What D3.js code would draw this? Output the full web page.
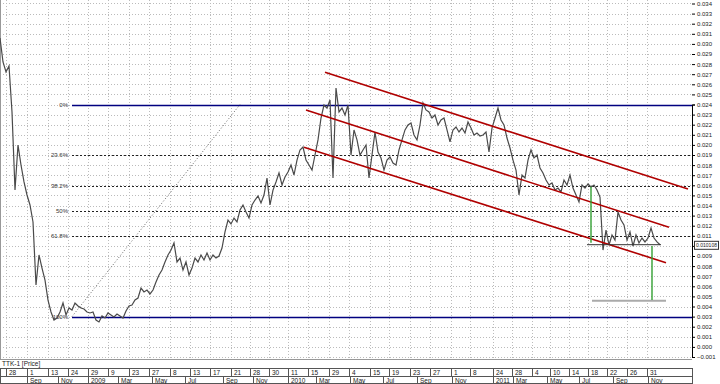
<!DOCTYPE html>
<html>
<head>
<meta charset="utf-8">
<script src="https://cdnjs.cloudflare.com/ajax/libs/d3/7.8.5/d3.min.js"></script>
<style>
  body { margin: 0; background: #fff; }
  svg { display: block; font-family: "Liberation Sans", Arial, sans-serif; }
</style>
</head>
<body>
<div id="chart"></div>
<script>
// TTK-1 close, one value every 3 bars
var barStep = 3;
var prices = [
  0.03058, 0.02821, 0.02722, 0.02781, 0.02326, 0.01553, 0.01999, 0.01801, 0.01633, 0.01504,
  0.01405, 0.01237, 0.00613, 0.00910, 0.00781, 0.00662, 0.00464, 0.00346, 0.00266, 0.00286,
  0.00346, 0.00435, 0.00316, 0.00385, 0.00365, 0.00435, 0.00405, 0.00385, 0.00375, 0.00346,
  0.00336, 0.00346, 0.00266, 0.00247, 0.00306, 0.00286, 0.00336, 0.00316, 0.00296, 0.00326,
  0.00306, 0.00286, 0.00355, 0.00405, 0.00415, 0.00464, 0.00484, 0.00583, 0.00544, 0.00563,
  0.00524, 0.00563, 0.00643, 0.00712, 0.00761, 0.00841, 0.00910, 0.00959, 0.01029, 0.00841,
  0.00880, 0.00761, 0.00841, 0.00712, 0.00781, 0.00880, 0.00841, 0.00910, 0.00860, 0.00930,
  0.00860, 0.00910, 0.00880, 0.00900, 0.00979, 0.01138, 0.01256, 0.01217, 0.01276, 0.01237,
  0.01355, 0.01405, 0.01336, 0.01276, 0.01405, 0.01454, 0.01494, 0.01425, 0.01504, 0.01672,
  0.01405, 0.01553, 0.01633, 0.01722, 0.01603, 0.01682, 0.01732, 0.01801, 0.01702, 0.01850,
  0.01950, 0.01979, 0.01850, 0.01801, 0.01751, 0.01900, 0.02049, 0.02266, 0.02395, 0.02365,
  0.02445, 0.01672, 0.02563, 0.02326, 0.02365, 0.02296, 0.02395, 0.01900, 0.02148, 0.02049,
  0.01900, 0.01950, 0.01999, 0.01672, 0.01900, 0.02128, 0.01930, 0.01870, 0.01751, 0.01850,
  0.01880, 0.01821, 0.01801, 0.01950, 0.02049, 0.02148, 0.02197, 0.02217, 0.02098, 0.02049,
  0.02197, 0.02415, 0.02346, 0.02326, 0.02266, 0.02296, 0.02197, 0.02247, 0.02266, 0.02148,
  0.02029, 0.02148, 0.02177, 0.02128, 0.02167, 0.02118, 0.02227, 0.02167, 0.02098, 0.02118,
  0.02088, 0.02098, 0.02128, 0.01930, 0.02167, 0.02266, 0.02365, 0.02247, 0.02197, 0.02068,
  0.01969, 0.01850, 0.01751, 0.01504, 0.01702, 0.01672, 0.01850, 0.01950, 0.01870, 0.01900,
  0.01771, 0.01722, 0.01652, 0.01603, 0.01623, 0.01553, 0.01573, 0.01534, 0.01652, 0.01603,
  0.01702, 0.01573, 0.01504, 0.01435, 0.01603, 0.01573, 0.01613, 0.01583, 0.01603, 0.01553,
  0.01484, 0.00959, 0.01157, 0.01009, 0.01108, 0.01058, 0.01336, 0.01256, 0.01207, 0.01058,
  0.01138, 0.00999, 0.01108, 0.01029, 0.01078, 0.01039, 0.01078, 0.01177, 0.01078, 0.01039,
  0.01011
];
var lastPrice = 0.010108;

// date axis (bar numbers where each cell starts)
var dayTickBars = [6, 27, 48, 68, 88, 108, 129, 149, 170, 190, 210, 231, 250, 269, 288, 308, 329,
  349, 370, 389, 410, 430, 451, 470, 493, 512, 532, 550, 569, 588, 607, 627, 647];
var dayTickLabels = ["28", "1", "13", "24", "29", "9", "23", "27", "8", "13", "17", "21", "28", "30",
  "11", "15", "29", "4", "15", "19", "23", "27", "1", "8", "24", "28", "4", "10", "14", "18", "22", "26", "31"];
var monthTickBars = [27, 58, 88, 118, 152, 185, 223, 253, 288, 316, 350, 383, 417, 452, 493, 513,
  547, 579, 613, 648];
var monthTickLabels = ["Sep", "Nov", "2009", "Mar", "May", "Jul", "Sep", "Nov", "2010", "Mar", "May",
  "Jul", "Sep", "Nov", "2011", "Mar", "May", "Jul", "Sep", "Nov"];

// fibonacci retracement drawn from the low to the high
var fibRatios = [0, 0.236, 0.382, 0.5, 0.618, 1];
var fibLabels = ["0%", "23.6%", "38.2%", "50%", "61.8%", "100%"];
var fibLow = { bar: 72, price: 0.003 };
var fibHigh = { bar: 240, price: 0.024 };

// down channel
var channelLines = [
  [{ bar: 325, price: 0.02719 }, { bar: 688, price: 0.01563 }],
  [{ bar: 306, price: 0.02346 }, { bar: 669, price: 0.01184 }],
  [{ bar: 304, price: 0.01976 }, { bar: 666, price: 0.00834 }]
];
// measured move
var greenLines = [
  [{ bar: 591, price: 0.01586 }, { bar: 591, price: 0.01032 }],
  [{ bar: 652, price: 0.00999 }, { bar: 652, price: 0.00464 }]
];
var baseLine = [{ bar: 587, price: 0.01012 }, { bar: 661, price: 0.01012 }];
var targetLine = [{ bar: 592, price: 0.00457 }, { bar: 666, price: 0.00457 }];

var yTicks = d3.range(-1, 35).map(function(d) { return d / 1000; });

var width = 720, height = 384;
var plotRight = 692, plotBottom = 359;

var svg = d3.select("#chart").append("svg")
  .attr("width", width)
  .attr("height", height);

var x = d3.scaleLinear().domain([0, 692]).range([0, plotRight]);
var y = d3.scaleLinear().domain([-0.001, 0.024]).range([357, 104.5]);

// grid
svg.append("g").selectAll("line")
  .data(yTicks)
  .join("line")
  .attr("x1", 0).attr("x2", plotRight)
  .attr("y1", function(d) { return Math.round(y(d)) + 0.5; })
  .attr("y2", function(d) { return Math.round(y(d)) + 0.5; })
  .attr("stroke", "#bbb")
  .attr("stroke-dasharray", "1,2");

svg.append("g").selectAll("line")
  .data(dayTickBars)
  .join("line")
  .attr("x1", function(d) { return Math.round(x(d)) + 0.5; })
  .attr("x2", function(d) { return Math.round(x(d)) + 0.5; })
  .attr("y1", 0).attr("y2", plotBottom)
  .attr("stroke", "#bbb")
  .attr("stroke-dasharray", "1,2");

// plot frame
svg.append("line").attr("x1", 0.5).attr("x2", 0.5).attr("y1", 0).attr("y2", plotBottom)
  .attr("stroke", "#999");
svg.append("line").attr("x1", 0).attr("x2", plotRight).attr("y1", plotBottom + 0.5).attr("y2", plotBottom + 0.5)
  .attr("stroke", "#999");

// fibonacci levels
var fibPrice = function(r) { return fibHigh.price - r * (fibHigh.price - fibLow.price); };
svg.append("g").selectAll("line")
  .data(fibRatios)
  .join("line")
  .attr("x1", x(fibLow.bar)).attr("x2", plotRight)
  .attr("y1", function(d) { return Math.round(y(fibPrice(d))) + 0.5; })
  .attr("y2", function(d) { return Math.round(y(fibPrice(d))) + 0.5; })
  .attr("stroke", function(d) { return d == 0 || d == 1 ? "#000080" : "#222"; })
  .attr("stroke-width", function(d) { return d == 0 || d == 1 ? 1.4 : 1; })
  .attr("stroke-dasharray", function(d) { return d == 0 || d == 1 ? null : "2,2"; });

svg.append("g").selectAll("text")
  .data(fibRatios)
  .join("text")
  .attr("x", x(fibLow.bar) - 4)
  .attr("y", function(d) { return y(fibPrice(d)) + 2; })
  .attr("text-anchor", "end")
  .attr("font-size", 6)
  .attr("fill", "#333")
  .text(function(d, i) { return fibLabels[i]; });

svg.append("line")
  .attr("x1", x(fibLow.bar)).attr("y1", y(fibLow.price))
  .attr("x2", x(fibHigh.bar)).attr("y2", y(fibHigh.price))
  .attr("stroke", "#666")
  .attr("stroke-dasharray", "1,2");

var seg = d3.line()
  .x(function(d) { return x(d.bar); })
  .y(function(d) { return y(d.price); });

// price line
var line = d3.line()
  .x(function(d, i) { return x(i * barStep); })
  .y(function(d) { return y(d); });

svg.append("path")
  .datum(prices)
  .attr("fill", "none")
  .attr("stroke", "#4a4a4a")
  .attr("stroke-width", 1.2)
  .attr("d", line);

// channel
svg.append("g").selectAll("path")
  .data(channelLines)
  .join("path")
  .attr("d", seg)
  .attr("stroke", "#b00000")
  .attr("stroke-width", 1.6)
  .attr("fill", "none");

svg.append("path").datum(baseLine).attr("d", seg)
  .attr("stroke", "#333").attr("stroke-width", 1);
svg.append("path").datum(targetLine).attr("d", seg)
  .attr("stroke", "#aaa").attr("stroke-width", 2);

svg.append("g").selectAll("path")
  .data(greenLines)
  .join("path")
  .attr("d", seg)
  .attr("stroke", "#33a033")
  .attr("stroke-width", 1.4);

// right price axis, the label under the price box is left out
var py = y(lastPrice);
var yAxis = svg.append("g")
  .attr("transform", "translate(" + plotRight + ",0)")
  .call(d3.axisRight(y).tickValues(yTicks).tickSize(3).tickPadding(2).tickFormat(d3.format(".3f")));
yAxis.select(".domain").attr("stroke", "#000");
yAxis.selectAll("text").attr("font-size", 6).attr("fill", "#222")
  .attr("font-family", "Liberation Sans Narrow, Liberation Sans, sans-serif");
yAxis.selectAll(".tick").filter(function(d) { return Math.abs(y(d) - py) < 6; })
  .select("text").remove();

// current price box
svg.append("rect")
  .attr("x", plotRight + 2.5).attr("y", py - 3.5)
  .attr("width", 24).attr("height", 8)
  .attr("fill", "#fff").attr("stroke", "#333");
svg.append("text")
  .attr("x", plotRight + 4).attr("y", py + 2.5)
  .attr("font-size", 6)
  .attr("textLength", 21)
  .attr("lengthAdjust", "spacingAndGlyphs")
  .attr("font-family", "Liberation Sans Narrow, Liberation Sans, sans-serif")
  .attr("fill", "#222")
  .text(d3.format(".6f")(lastPrice));

// series name
svg.append("text")
  .attr("x", 2).attr("y", 366)
  .attr("font-size", 6.5)
  .attr("fill", "#222")
  .text("TTK-1 [Price]");

// date axis
var axisTop = 368, axisMid = 376;
var dateAxis = svg.append("g").attr("stroke", "#555").attr("fill", "none");
dateAxis.append("rect").attr("x", 0.5).attr("y", axisTop + 0.5).attr("width", plotRight).attr("height", height - axisTop - 1);
dateAxis.append("line").attr("x1", 0).attr("x2", plotRight + 0.5).attr("y1", axisMid + 0.5).attr("y2", axisMid + 0.5);

dateAxis.selectAll(".dsep")
  .data(dayTickBars)
  .join("line")
  .attr("class", "dsep")
  .attr("x1", function(d) { return Math.round(x(d)) + 0.5; })
  .attr("x2", function(d) { return Math.round(x(d)) + 0.5; })
  .attr("y1", axisTop).attr("y2", axisMid);

dateAxis.selectAll(".msep")
  .data(monthTickBars)
  .join("line")
  .attr("class", "msep")
  .attr("x1", function(d) { return Math.round(x(d)) + 0.5; })
  .attr("x2", function(d) { return Math.round(x(d)) + 0.5; })
  .attr("y1", axisMid).attr("y2", height);

svg.append("g").selectAll("text")
  .data(dayTickBars)
  .join("text")
  .attr("x", function(d) { return x(d) + 3; })
  .attr("y", axisTop + 6.5)
  .attr("font-size", 6.5)
  .attr("fill", "#222")
  .text(function(d, i) { return dayTickLabels[i]; });

svg.append("g").selectAll("text")
  .data(monthTickBars)
  .join("text")
  .attr("x", function(d) { return x(d) + 3; })
  .attr("y", axisMid + 6.8)
  .attr("font-size", 6.5)
  .attr("fill", "#222")
  .text(function(d, i) { return monthTickLabels[i]; });
</script>
</body>
</html>
